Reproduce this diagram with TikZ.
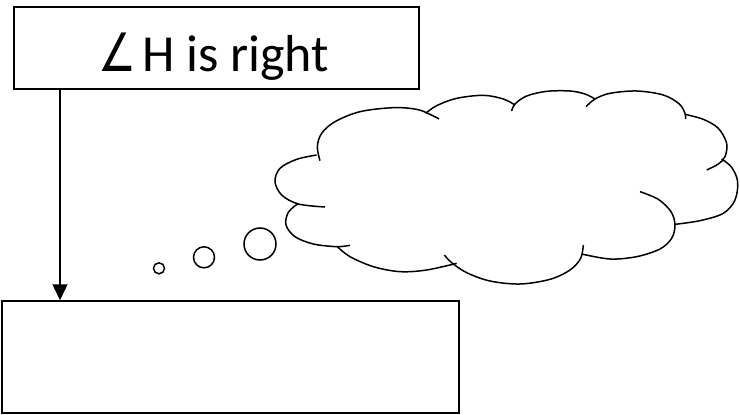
\documentclass[tikz,border=0pt]{standalone}
\usepackage{fontspec}
\setmainfont{Carlito}
\newfontfamily\symfnt{DejaVu Sans}
\usetikzlibrary{arrows.meta}
\tikzset{
  boxstyle/.style={draw, line width=1.5pt, inner sep=0pt},
  lobe/.style={line width=1.5pt, smooth, tension=0.55},
  bubble/.style={draw, line width=1.5pt},
}
\begin{document}
\begin{tikzpicture}[x=1pt,y=-1pt]
\useasboundingbox (0,0) rectangle (740,415);
\node[boxstyle, minimum width=405pt, minimum height=82pt] (top) at (216.5,48) {};
\node[anchor=base west, inner sep=0pt] (lbl) at (98,71)
  {\makebox[44pt][l]{\scalebox{0.92}[1.15]{\symfnt\fontsize{46}{50}\selectfont ∠}}\fontsize{52}{60}\selectfont H is right};
\node[boxstyle, minimum width=457pt, minimum height=112pt] (bot) at (230.5,357) {};
\coordinate (ax) at (60,0);
\draw[line width=1.5pt, -{Triangle[length=16pt,width=15pt]}] (top.south -| ax) -- (bot.north -| ax);
% thought bubbles
\draw[bubble] (159,268.3) circle[radius=5.5pt];
\draw[bubble] (204,257.3) circle[radius=10.5pt];
\draw[bubble] (260,244) circle[radius=16pt];
% cloud
\begin{scope}[shift={(260,80)}, scale=0.33333]
\draw[lobe] plot coordinates {(180,242) (172,200) (185,160) (225,125) (300,95) (400,83) (470,88) (510,103) (537,117)};
\draw[lobe] plot coordinates {(497,100) (530,77) (590,55) (670,46) (730,57) (765,75)};
\draw[lobe] plot coordinates {(755,93) (765,72) (800,48) (860,34) (930,33) (975,42) (1005,57)};
\draw[lobe] plot coordinates {(978,80) (1005,57) (1050,40) (1130,33) (1210,45) (1258,72) (1275,100) (1277,117)};
\draw[lobe] plot coordinates {(1275,103) (1330,118) (1375,145) (1400,190) (1395,230) (1375,252) (1340,270)};
\draw[lobe] plot coordinates {(1385,237) (1415,262) (1433,305) (1425,360) (1390,400) (1320,422) (1245,433)};
\draw[lobe] plot coordinates {(1140,335) (1195,358) (1233,395) (1245,435) (1235,475) (1200,507) (1130,530) (1050,537) (965,522)};
\draw[lobe] plot coordinates {(970,495) (962,535) (930,570) (870,598) (780,612) (690,603) (620,578) (575,548) (553,525)};
\draw[lobe] plot coordinates {(232,500) (270,530) (340,560) (420,575) (500,570) (590,550)};
\draw[lobe] plot coordinates {(115,370) (85,397) (78,435) (105,470) (160,492) (230,500) (270,496)};
\draw[lobe] plot coordinates {(170,225) (110,238) (60,265) (45,305) (65,345) (115,372) (195,381)};
\end{scope}
\end{tikzpicture}
\end{document}
